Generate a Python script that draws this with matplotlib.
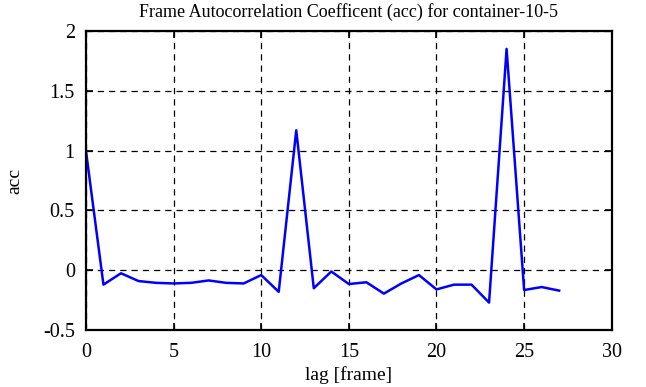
import matplotlib
matplotlib.use("Agg")
import matplotlib.pyplot as plt

lag = list(range(28))
acc = [1.0, -0.12, -0.025, -0.09, -0.105, -0.11, -0.105, -0.085, -0.105, -0.11,
       -0.04, -0.18, 1.17, -0.15, -0.01, -0.115, -0.10, -0.195, -0.11, -0.04,
       -0.16, -0.12, -0.12, -0.27, 1.85, -0.165, -0.14, -0.17]

plt.rcParams["font.family"] = ["Liberation Serif", "DejaVu Serif"]

fig = plt.figure(figsize=(6.46, 3.87), dpi=100)
ax = fig.add_axes([0.133, 0.147, 0.814, 0.773])
ax.plot(lag, acc, color="#0000ff", linewidth=1.8)
ax.set_xlim(0, 30)
ax.set_ylim(-0.5, 2)
ax.set_xticks([0, 5, 10, 15, 20, 25, 30])
ax.set_yticks([-0.5, 0, 0.5, 1, 1.5, 2])
ax.set_yticklabels(["-0.5", "0", "0.5", "1", "1.5", "2"])
ax.grid(True, color="black", linestyle=(0, (5, 4)), linewidth=0.9)
ax.tick_params(direction="in", top=True, right=True, labelsize=14.5, length=5, width=1.2)
ax.tick_params(axis="x", pad=9)
ax.tick_params(axis="y", pad=8)
for s in ax.spines.values():
    s.set_linewidth(1.6)
ax.set_xlabel("lag [frame]", fontsize=14, labelpad=3)
ax.set_ylabel("acc", fontsize=14, labelpad=14)
ax.set_title("Frame Autocorrelation Coefficent (acc) for container-10-5", fontsize=13, pad=10)
fig.savefig("out.png", dpi=100)
